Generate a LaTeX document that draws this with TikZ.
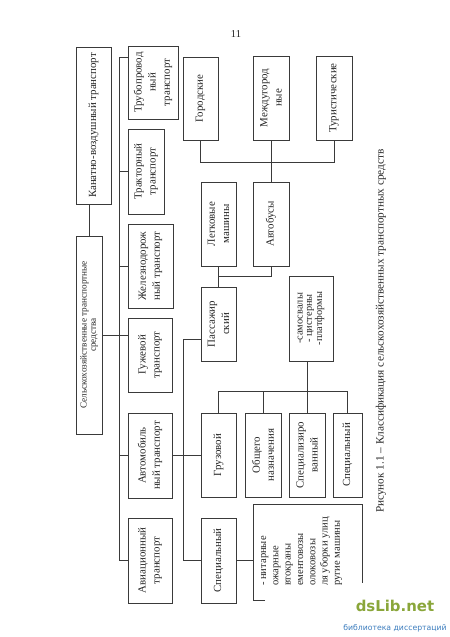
\documentclass[tikz,border=0pt]{standalone}
\usepackage{fontspec}
\setmainfont{Liberation Serif}
\newfontfamily\wmfont{DejaVu Sans}
\usepackage{tikz}
\usetikzlibrary{calc}
\definecolor{Ink}{HTML}{3A3A3A}
\definecolor{Txt}{HTML}{262626}
\definecolor{WmGreen}{HTML}{8AA63A}
\definecolor{WmBlue}{HTML}{3C7DBE}

\begin{document}
\begin{tikzpicture}[x=.4mm,y=-.4mm,
box/.style={draw=Ink,line width=.6pt,rotate=90,align=center,inner sep=1pt,text=Txt,font=\fontsize{12.4}{16}\selectfont},
sz/.style 2 args={minimum width=#1*.4mm,minimum height=#2*.4mm},
ln/.style={draw=Ink,line width=.6pt},
captext/.style={rotate=90,text=Txt,font=\fontsize{12.8}{15}\selectfont}]
\path[use as bounding box,fill=white] (0,0) rectangle (450,637);
\node[text=Txt,font=\fontsize{12}{14}\selectfont] (pg) at (236,34) {11};
% first level
\node[box,sz={157}{35}] (kan) at (93.5,125.5) {Канатно-воздушный транспорт};
\node[box,sz={198}{26},font=\fontsize{10.5}{10.5}\selectfont] (sel) at (89,335) {Сельскохозяйственные транспортные\\средства};
\node[box,sz={73}{50}] (tru) at (153,82.5) {Трубопровод\\ный\\транспорт};
\node[box,sz={85}{36}] (tra) at (146,171.5) {Тракторный\\транспорт};
\node[box,sz={84}{45}] (zhe) at (150.5,266) {Железнодорож\\ный транспорт};
\node[box,sz={74}{44}] (guzh) at (150,355) {Гужевой\\транспорт};
\node[box,sz={85}{44}] (avto) at (150,455.5) {Автомобиль\\ный транспорт};
\node[box,sz={85}{44}] (avia) at (150,560.5) {Авиационный\\транспорт};
% motor transport
\node[box,sz={83}{35}] (gor) at (200.5,98.5) {Городские};
\node[box,sz={84}{36}] (mezh) at (271,98) {Междугород\\ные};
\node[box,sz={84}{36}] (tur) at (334,98) {Туристические};
\node[box,sz={84}{35}] (leg) at (218.5,224) {Легковые\\машины};
\node[box,sz={84}{36}] (bus) at (271,224) {Автобусы};
\node[box,sz={74}{35}] (pas) at (218.5,324) {Пассажир\\ский};
\node[box,sz={85}{44},font=\fontsize{11.8}{10.5}\selectfont] (grp) at (311,318.5) {-самосвалы\\- цистерны\\-платформы};
\node[box,sz={84}{35}] (gru) at (218.5,455) {Грузовой};
\node[box,sz={84}{36}] (obs) at (263,455) {Общего\\назначения};
\node[box,sz={84}{36}] (spz) at (307,455) {Специализиро\\ванный};
\node[box,sz={84}{29}] (spc) at (347.5,455) {Специальный};
\node[box,sz={85}{35}] (spl) at (218.5,560.5) {Специальный};
% list (lower part hidden by the watermark)
\draw[ln] (265,600) -| (253,504) -| (362,583);
\node[rotate=90,anchor=west,align=left,inner sep=0pt,text=Txt,font=\fontsize{12}{14}\selectfont] (lst) at (301.7,586) {- нитарные\\ожарные\\втокраны\\ементовозы\\олоковозы\\ля уборки улиц\\ругие машины};
\coordinate (lstl) at (253,560.5);
% connectors
\draw[ln] (sel.east) -- (sel.east |- kan.west);
\coordinate (b1) at (119,57);
\draw[ln] (b1 -| tru.north) -- (b1) -- (b1 |- avia.north) -- (avia.north);
\draw[ln] (b1 |- tra.north) -- (tra.north);
\draw[ln] (b1 |- zhe.north) -- (zhe.north);
\draw[ln] (b1 |- avto.north) -- (avto.north);
\draw[ln] (sel.south) -- (sel.south -| guzh.north);
\draw[ln] (avto.south) -- (avto.south -| gru.north);
\coordinate (b2) at (183,339);
\draw[ln] (b2 -| pas.north) -- (b2) |- (spl.north);
\draw[ln] (spl.south) -- (lstl);
\coordinate (j1) at ($(leg.west)!.5!(pas.east)$);
\draw[ln] (leg.west) -- (pas.east);
\draw[ln] (j1) -| (bus.west);
\coordinate (j2) at (0,162);
\draw[ln] (gor.west) |- (j2 -| tur.west) -- (tur.west);
\draw[ln] (mezh.west) -- (bus.east);
\coordinate (j3) at (0,391);
\draw[ln] (spz.east) -- (spz.east |- grp.west);
\draw[ln] (gru.east) |- (spc.east |- j3) -- (spc.east);
\draw[ln] (obs.east) -- (obs.east |- j3);
% caption
\node[captext] (capt) at (381,331) {Рисунок 1.1 -- Классификация сельскохозяйственных транспортных средств};
% watermark
\node[text=WmGreen,font=\wmfont\bfseries\fontsize{17}{17}\selectfont,inner sep=0pt] (wm) at (395,606) {dsLib.net};
\node[text=WmBlue,font=\wmfont\fontsize{8.8}{10}\selectfont,inner sep=0pt] (wmsub) at (395,628) {библиотека диссертаций};
\end{tikzpicture}
\end{document}
